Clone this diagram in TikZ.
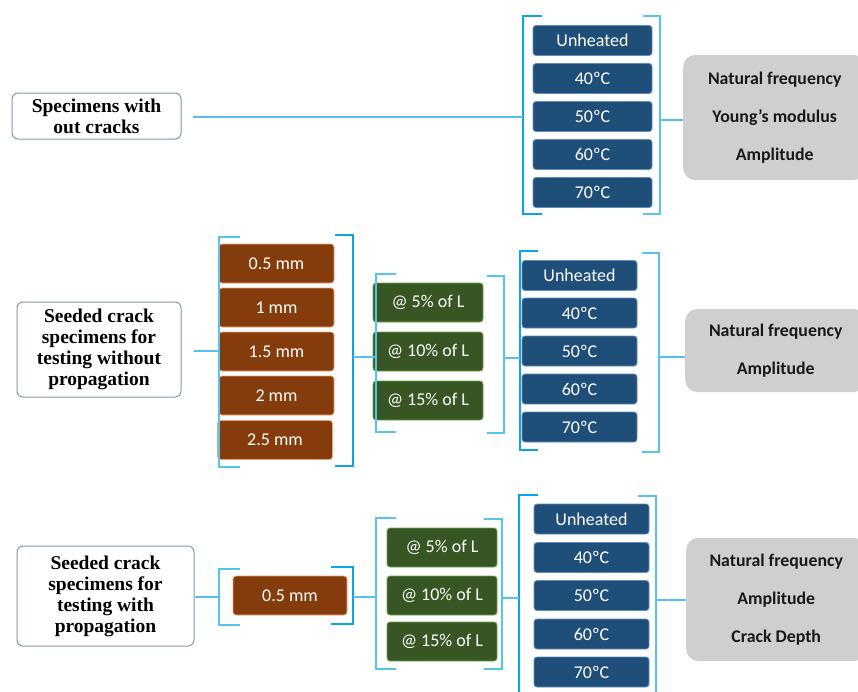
\documentclass[tikz,border=0pt]{standalone}
\usepackage{fontspec}
\setmainfont{Carlito}
\newfontfamily\serifb{Liberation Serif}
\definecolor{tbfill}{HTML}{1F4E79}
\definecolor{tbline}{HTML}{5B8DBF}
\definecolor{cbfill}{HTML}{843C0C}
\definecolor{cbline}{HTML}{F4A070}
\definecolor{pbfill}{HTML}{375623}
\definecolor{pbline}{HTML}{6AA84F}
\definecolor{obfill}{HTML}{D0CECE}
\definecolor{sbline}{HTML}{8497B0}
\definecolor{connc}{HTML}{55C1EE}
\definecolor{thickc}{HTML}{0AA5E8}
\definecolor{thinc}{HTML}{55C5F0}
\begin{document}
\begin{tikzpicture}[x=1pt,y=-1pt,
  cell/.style={rounded corners=3pt, line width=0.8pt, text=white, inner sep=0pt,
    font=\fontsize{18}{20}\selectfont},
  tempbox/.style={cell, fill=tbfill, draw=tbline, minimum width=115pt, minimum height=30pt},
  crackbox/.style={cell, fill=cbfill, draw=cbline, minimum width=115pt, minimum height=39pt},
  posbox/.style={cell, fill=pbfill, draw=pbline, minimum width=110pt, minimum height=39pt},
  outbox/.style={fill=obfill, rounded corners=12pt, align=center, inner sep=0pt, anchor=west,
    text=black!90, font=\bfseries\fontsize{17.8}{38}\selectfont},
  startbox/.style={draw=sbline, rounded corners=6pt, line width=1pt, align=center, inner sep=0pt,
    fill=white, font=\serifb\bfseries\fontsize{19.5}{21}\selectfont},
  conn/.style={draw=connc, line width=1.3pt},
  thickbr/.style={draw=thickc, line width=2.8pt},
  thinbr/.style={draw=thinc, line width=1.4pt}
]
\useasboundingbox (0,0) rectangle (858,691);

% ---------- Section 1 ----------
\node[startbox, minimum width=169pt, minimum height=46pt] (s1) at (96.5,116) {Specimens with\\out cracks};
\foreach \y/\t/\n in {40.5/Unheated/a, 78.5/40ºC/b, 116.5/50ºC/c, 154.5/60ºC/d, 192.5/70ºC/e}
  \node[tempbox, minimum width=119pt] (t1\n) at (592.5,\y) {\t};
\draw[thickbr] (542,16) -- (523,16) -- (523,214) -- (542,214);
\draw[thinbr] (643,16) -- (660,16) -- (660,214) -- (643,214);
\coordinate (lb1) at (523,117);
\coordinate (rb1) at (660,120);
\node[outbox, minimum width=183pt, minimum height=125pt] (o1) at (683,117.5)
  {Natural frequency\\Young’s modulus\\Amplitude};
\draw[conn] (s1.east) ++(11,1) -- (lb1);
\draw[conn] (rb1) -- (rb1 -| o1.west);

% ---------- Section 2 ----------
\node[startbox, minimum width=164pt, minimum height=95pt] (s2) at (99,349.5)
  {Seeded crack\\specimens for\\testing without\\propagation};
\foreach \x/\y/\t/\n in {276.5/263.5/0.5 mm/a, 276.5/307.5/1 mm/b, 276.5/351.5/1.5 mm/c, 276.5/395.5/2 mm/d, 275/440/2.5 mm/e}
  \node[crackbox] (c2\n) at (\x,\y) {\t};
\draw[thinbr] (240,237) -- (219,237) -- (219,467) -- (240,467);
\draw[thickbr] (335,235) -- (353,235) -- (353,466) -- (335,466);
\coordinate (lb2) at (219,351);
\coordinate (rb2) at (353,357);
\foreach \y/\t/\n in {302.5/@ 5\% of L/a, 351.5/@ 10\% of L/b, 400.5/@ 15\% of L/c}
  \node[posbox] (p2\n) at (428,\y) {\t};
\draw[thinbr] (396,274) -- (376,274) -- (376,432) -- (396,432);
\draw[thinbr] (487,276) -- (504,276) -- (504,433) -- (487,433);
\coordinate (lg2) at (376,357);
\coordinate (rg2) at (504,358);
\foreach \y/\t/\n in {275.5/Unheated/a, 313/40ºC/b, 351/50ºC/c, 389/60ºC/d, 427/70ºC/e}
  \node[tempbox] (t2\n) at (579.5,\y) {\t};
\draw[thickbr] (538,251) -- (520,251) -- (520,450) -- (538,450);
\draw[thinbr] (642,253) -- (659,253) -- (659,452) -- (642,452);
\coordinate (lt2) at (520,358);
\coordinate (rt2) at (659,357);
\node[outbox, minimum width=181pt, minimum height=83pt] (o2) at (685,350.5)
  {Natural frequency\\Amplitude};
\draw[conn] (s2.east) ++(12,1.5) -- (lb2);
\draw[conn] (rb2) -- (lg2);
\draw[conn] (rg2) -- (lt2);
\draw[conn] (rt2) -- (rt2 -| o2.west);

% ---------- Section 3 ----------
\node[startbox, minimum width=177pt, minimum height=100pt] (s3) at (105.5,596)
  {Seeded crack\\specimens for\\testing with\\propagation};
\node[crackbox, minimum width=114pt] (c3a) at (290,595.5) {0.5 mm};
\draw[thinbr] (240,569) -- (219,569) -- (219,625) -- (240,625);
\draw[thickbr] (331,567) -- (353,567) -- (353,624) -- (331,624);
\coordinate (lb3) at (219,597);
\coordinate (rb3) at (353,597);
\foreach \y/\t/\n in {547.5/@ 5\% of L/a, 595.5/@ 10\% of L/b, 641.5/@ 15\% of L/c}
  \node[posbox] (p3\n) at (442,\y) {\t};
\draw[thinbr] (396,518) -- (376,518) -- (376,669) -- (396,669);
\draw[thinbr] (484,519) -- (502,519) -- (502,669) -- (484,669);
\coordinate (lg3) at (376,597);
\coordinate (rg3) at (502,598);
\foreach \y/\t/\n in {519/Unheated/a, 557.5/40ºC/b, 595.5/50ºC/c, 634/60ºC/d, 672/70ºC/e}
  \node[tempbox] (t3\n) at (591.5,\y) {\t};
\draw[thickbr] (538,495) -- (519,495) -- (519,700);
\draw[thinbr] (638,496) -- (656,496) -- (656,700);
\coordinate (lt3) at (519,598);
\coordinate (rt3) at (656,600);
\node[outbox, minimum width=180pt, minimum height=123pt] (o3) at (686,599.5)
  {Natural frequency\\Amplitude\\Crack Depth};
\draw[conn] (s3.east) ++(0,1) -- (lb3);
\draw[conn] (rb3) -- (lg3);
\draw[conn] (rg3) -- (lt3);
\draw[conn] (rt3) -- (rt3 -| o3.west);
\end{tikzpicture}
\end{document}
